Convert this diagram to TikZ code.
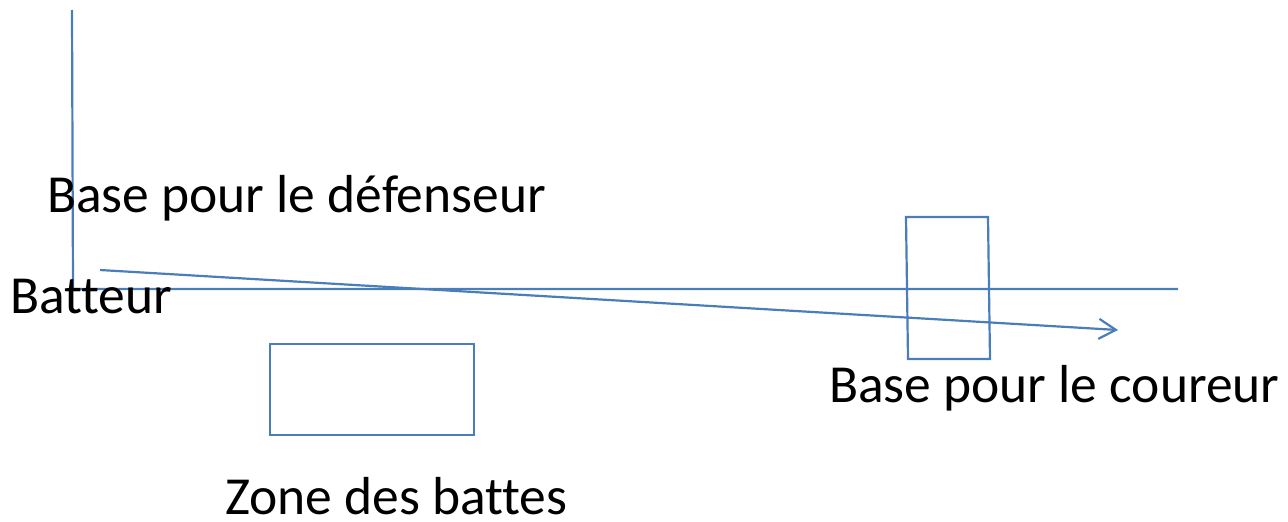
\documentclass[tikz,border=0pt]{standalone}
\usepackage{fontspec}
\setmainfont[Ligatures=NoCommon]{Carlito}
\usetikzlibrary{arrows.meta}
\definecolor{linecol}{HTML}{4A7EBB}
\begin{document}
\begin{tikzpicture}[x=1pt,y=-1pt,
    line/.style={draw=linecol, line width=2.2pt},
    lbl/.style={font=\fontsize{53.5}{62}\selectfont, inner sep=0pt, anchor=base west}]
    \useasboundingbox (0,0) rectangle (1288,522);
    \coordinate (top) at (72,10);
    \coordinate (batter) at (73,289);
    \coordinate (lineend) at (1178,289);
    \coordinate (throw) at (100,270);
    \coordinate (target) at (1118,330);
    \draw[line] (top) -- (batter) -- (lineend);
    \draw[line, -{Straight Barb[length=17pt,width=20pt,line width=2.2pt]}] (throw) -- (target);
    \draw[line] (906,217) -- (988,217) -- (990,359) -- (908,359) -- cycle;
    \draw[line] (270,344) rectangle (474,435);
    \node[lbl] (defense) at (47,212) {Base pour le défenseur};
    \node[lbl] (batteur) at (10,313) {Batteur};
    \node[lbl] (coureur) at (829,402) {Base pour le coureur};
    \node[lbl] (zone) at (225,514) {Zone des battes};
\end{tikzpicture}
\end{document}
